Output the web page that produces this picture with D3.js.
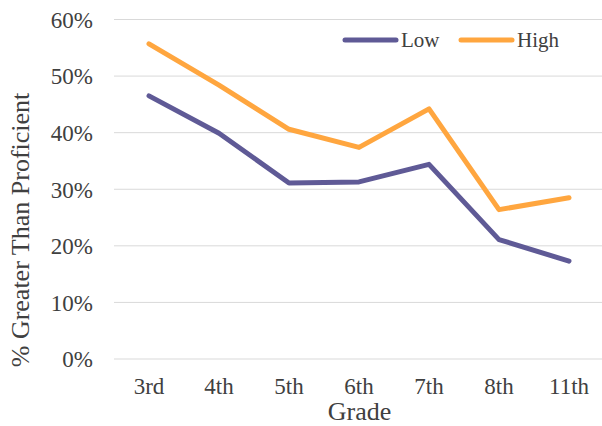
<!DOCTYPE html>
<html>
<head>
<meta charset="utf-8">
<script src="https://cdn.jsdelivr.net/npm/d3@7"></script>
</head>
<body style="margin:0">
<svg id="chart" width="602" height="426"></svg>
<script>
// Share of students scoring above proficient, by grade and group
const grades = ["3rd", "4th", "5th", "6th", "7th", "8th", "11th"];
const lowValues = [0.465, 0.399, 0.311, 0.313, 0.344, 0.211, 0.173];
const highValues = [0.557, 0.484, 0.406, 0.374, 0.442, 0.264, 0.285];
const seriesNames = ["Low", "High"];
const yTicks = [0, 0.1, 0.2, 0.3, 0.4, 0.5, 0.6];

const FONT = "'Liberation Serif', 'Times New Roman', serif";
const TEXT_COLOR = "#404040";

const series = [
  { name: seriesNames[0], values: lowValues, color: "#5F5A96" },
  { name: seriesNames[1], values: highValues, color: "#FFA63F" }
];

const svg = d3.select("#chart");
const margin = { left: 114, right: -2, top: 19.5, bottom: 67 };
const width = 602, height = 426;

const styleText = (sel, size) => sel
  .style("font-family", FONT)
  .style("font-size", size + "px")
  .style("fill", TEXT_COLOR);

const x = d3.scaleBand()
  .domain(grades)
  .range([margin.left, width - margin.right]);

const y = d3.scaleLinear()
  .domain([0, 0.6])
  .range([height - margin.bottom, margin.top]);

// Horizontal gridlines
svg.append("g")
  .selectAll("line")
  .data(yTicks)
  .join("line")
  .attr("x1", margin.left)
  .attr("x2", width)
  .attr("y1", d => y(d))
  .attr("y2", d => y(d))
  .attr("stroke", "#D9D9D9")
  .attr("stroke-width", 1);

// Y axis labels
const yAxis = d3.axisLeft(y)
  .tickValues(yTicks)
  .tickFormat(d3.format(".0%"))
  .tickSize(0)
  .tickPadding(0);

const gy = svg.append("g")
  .attr("transform", `translate(${margin.left - 21},0)`)
  .call(yAxis);
gy.select(".domain").remove();
gy.selectAll("text").call(styleText, 23).attr("dy", "0.34em");

// X axis labels
const xAxis = d3.axisBottom(x).tickSize(0).tickPadding(0);
const gx = svg.append("g")
  .attr("transform", `translate(0,${y(0)})`)
  .call(xAxis);
gx.select(".domain").remove();
gx.selectAll("text").call(styleText, 23).attr("y", 35).attr("dy", 0);

// Axis titles
svg.append("text")
  .attr("x", 359.5)
  .attr("y", 420)
  .attr("text-anchor", "middle")
  .call(styleText, 26)
  .text("Grade");

svg.append("text")
  .attr("transform", "translate(29,230) rotate(-90)")
  .attr("text-anchor", "middle")
  .call(styleText, 26)
  .text("% Greater Than Proficient");

// Lines
const line = d3.line()
  .x((d, i) => x(grades[i]) + x.bandwidth() / 2)
  .y(d => y(d));

svg.append("g")
  .selectAll("path")
  .data(series)
  .join("path")
  .attr("d", d => line(d.values))
  .attr("fill", "none")
  .attr("stroke", d => d.color)
  .attr("stroke-width", 5)
  .attr("stroke-linejoin", "round")
  .attr("stroke-linecap", "round");

// Legend
const legendItems = [
  { s: series[0], x0: 345 },
  { s: series[1], x0: 461 }
];
const legend = svg.append("g");
legendItems.forEach(item => {
  legend.append("line")
    .attr("x1", item.x0)
    .attr("x2", item.x0 + 51)
    .attr("y1", 40)
    .attr("y2", 40)
    .attr("stroke", item.s.color)
    .attr("stroke-width", 5)
    .attr("stroke-linecap", "round");
  legend.append("text")
    .attr("x", item.x0 + 56)
    .attr("y", 47)
    .call(styleText, 21)
    .text(item.s.name);
});
</script>
</body>
</html>
